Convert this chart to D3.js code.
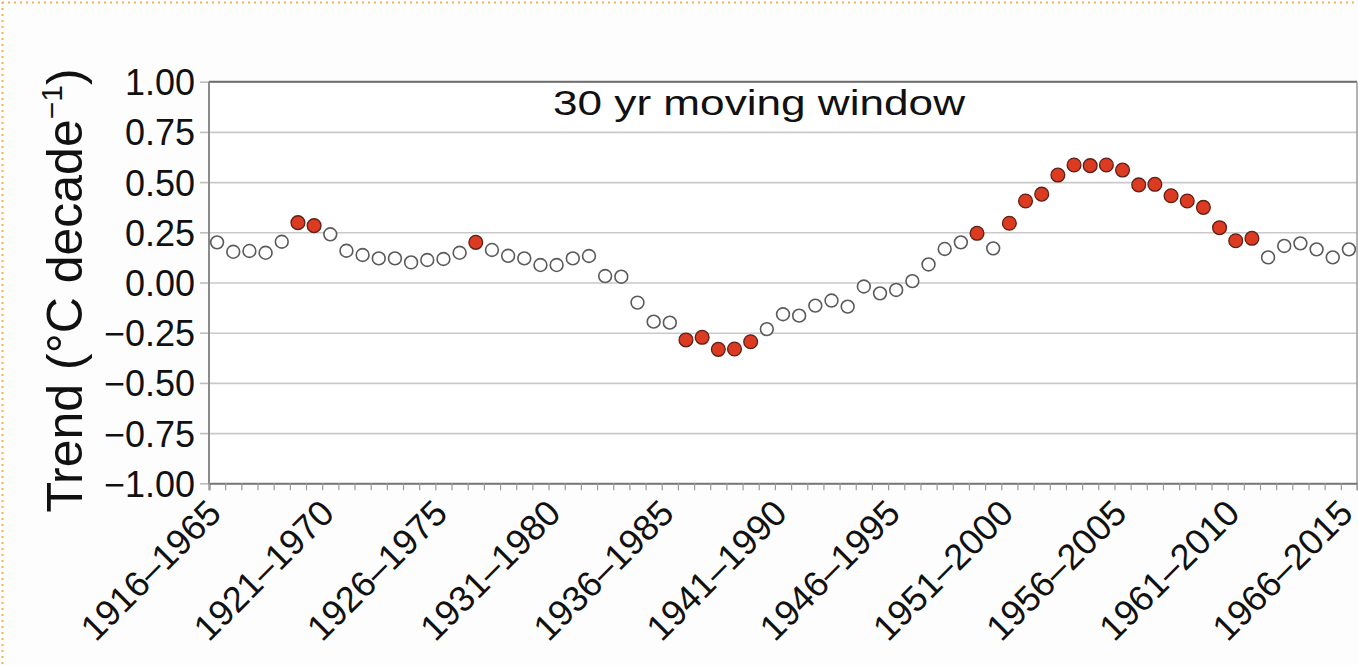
<!DOCTYPE html>
<html>
<head>
<meta charset="utf-8">
<script src="https://cdn.jsdelivr.net/npm/d3@7"></script>
<style>
  html, body { margin: 0; padding: 0; background: #ffffff; }
  svg { display: block; }
  text { font-family: "Liberation Sans", Arial, Helvetica, sans-serif; fill: #111; }
</style>
</head>
<body>
<svg id="chart" width="1358" height="665"></svg>
<script>
// ---------- data ----------
const title = "30 yr moving window";
const yTitle = "Trend (°C decade";
const yTicks = [1.00, 0.75, 0.50, 0.25, 0.00, -0.25, -0.50, -0.75, -1.00];
const tickLabels = ["1916–1965", "1921–1970", "1926–1975", "1931–1980", "1936–1985",
  "1941–1990", "1946–1995", "1951–2000", "1956–2005", "1961–2010", "1966–2015"];
const labelEvery = 7;
const trend = [
  0.200, 0.153, 0.157, 0.148, 0.203, 0.298, 0.283, 0.240, 0.158, 0.137,
  0.120, 0.120, 0.100, 0.112, 0.117, 0.148, 0.200, 0.162, 0.133, 0.120,
  0.087, 0.087, 0.120, 0.132, 0.032, 0.029, -0.100, -0.195, -0.200, -0.286,
  -0.273, -0.333, -0.331, -0.295, -0.232, -0.158, -0.165, -0.115, -0.090, -0.120,
  -0.020, -0.054, -0.037, 0.007, 0.090, 0.167, 0.200, 0.245, 0.170, 0.295,
  0.406, 0.440, 0.535, 0.585, 0.582, 0.585, 0.560, 0.486, 0.489, 0.432,
  0.406, 0.374, 0.273, 0.208, 0.220, 0.125, 0.182, 0.195, 0.165, 0.125,
  0.165
];
const significant = [
  0,0,0,0,0,1,1,0,0,0,
  0,0,0,0,0,0,1,0,0,0,
  0,0,0,0,0,0,0,0,0,1,
  1,1,1,1,0,0,0,0,0,0,
  0,0,0,0,0,0,0,1,0,1,
  1,1,1,1,1,1,1,1,1,1,
  1,1,1,1,1,0,0,0,0,0,
  0
];
const categories = trend.map((d, i) => i);

// ---------- layout ----------
const svg = d3.select("#chart");
const mLeft = 209, mRight = 1357, mTop = 81.7, mBottom = 483.3;

// page decoration (dotted frame of source)
svg.append("rect").attr("x", 0).attr("y", 0).attr("width", 1358).attr("height", 665).attr("fill", "#fdfdfd");
svg.append("line").attr("x1", 2).attr("x2", 1358).attr("y1", 2.5).attr("y2", 2.5)
  .attr("stroke", "#f2b257").attr("stroke-width", 2).attr("stroke-dasharray", "2,4");
svg.append("line").attr("x1", 2.5).attr("x2", 2.5).attr("y1", 2).attr("y2", 665)
  .attr("stroke", "#f2b257").attr("stroke-width", 2).attr("stroke-dasharray", "2,4");

const x = d3.scaleBand().domain(categories).range([mLeft, mRight]).padding(0);
const xEdge = d3.scaleLinear().domain([0, categories.length]).range([mLeft, mRight]);
const y = d3.scaleLinear().domain([-1, 1]).range([mBottom, mTop]);

// plot background
svg.append("rect").attr("x", mLeft).attr("y", mTop).attr("width", mRight - mLeft).attr("height", mBottom - mTop).attr("fill", "#ffffff");

// y axis ticks + labels
const yAxis = d3.axisLeft(y).tickValues(yTicks).tickSize(9).tickPadding(5)
  .tickFormat(d => d3.format(".2f")(d).replace("-", "\u2212"));
const gy = svg.append("g").attr("transform", `translate(${mLeft},0)`).call(yAxis);
gy.select(".domain").remove();
gy.selectAll(".tick line").attr("stroke", "#bdbdbd").attr("stroke-width", 1.6);
gy.selectAll(".tick text").attr("font-size", 36).attr("fill", "#111").attr("dy", "0.36em");

// grid
const grid = d3.axisLeft(y).tickValues(yTicks).tickSize(-(mRight - mLeft)).tickFormat("");
const gg = svg.append("g").attr("transform", `translate(${mLeft},0)`).call(grid);
gg.select(".domain").remove();
gg.selectAll(".tick line").attr("stroke", "#c9c9c9").attr("stroke-width", 1.6);

// frame
svg.append("line").attr("x1", mLeft).attr("x2", mRight).attr("y1", mTop).attr("y2", mTop).attr("stroke", "#6f6f6f").attr("stroke-width", 2);
svg.append("line").attr("x1", mLeft).attr("x2", mLeft).attr("y1", mTop).attr("y2", mBottom).attr("stroke", "#8a8a8a").attr("stroke-width", 2);
svg.append("line").attr("x1", mRight).attr("x2", mRight).attr("y1", mTop).attr("y2", mBottom).attr("stroke", "#9a9a9a").attr("stroke-width", 1.5);

// minor ticks at band edges
const minor = d3.axisBottom(xEdge).tickValues(d3.range(0, categories.length + 1)).tickSize(7).tickFormat("");
const gm = svg.append("g").attr("transform", `translate(0,${mBottom})`).call(minor);
gm.select(".domain").attr("stroke", "#777").attr("stroke-width", 2);
gm.selectAll(".tick line").attr("stroke", "#9a9a9a").attr("stroke-width", 1.2);

// x labels
const xAxis = d3.axisBottom(x).tickValues(categories.filter(i => i % labelEvery === 0)).tickSize(0)
  .tickFormat(i => tickLabels[i / labelEvery]);
const gx = svg.append("g").attr("transform", `translate(0,${mBottom})`).call(xAxis);
gx.select(".domain").remove();
gx.selectAll(".tick text")
  .attr("font-size", 36)
  .attr("fill", "#111")
  .attr("text-anchor", "end")
  .attr("dy", 0)
  .attr("y", 0)
  .attr("transform", "translate(6,32) rotate(-45)");

// title
svg.append("text").attr("x", 759).attr("y", 115).attr("text-anchor", "middle")
  .attr("font-size", 35).attr("textLength", 412).attr("lengthAdjust", "spacingAndGlyphs").text(title);

// y title
const yt = svg.append("text").attr("transform", `translate(82,${(mTop + mBottom) / 2 + 8}) rotate(-90)`)
  .attr("text-anchor", "middle").attr("font-size", 50);
yt.append("tspan").text(yTitle);
yt.append("tspan").attr("font-size", 30).attr("dy", -20).text("\u22121");
yt.append("tspan").attr("dy", 20).text(")");

// points
svg.append("g").selectAll("circle").data(categories).join("circle")
  .attr("cx", i => x(i) + x.bandwidth() / 2)
  .attr("cy", i => y(trend[i]))
  .attr("r", i => significant[i] ? 6.9 : 6.4)
  .attr("fill", i => significant[i] ? "#dc3b22" : "#ffffff")
  .attr("stroke", i => significant[i] ? "#5b2118" : "#5a5a5a")
  .attr("stroke-width", i => significant[i] ? 1.3 : 1.6);
</script>
</body>
</html>
